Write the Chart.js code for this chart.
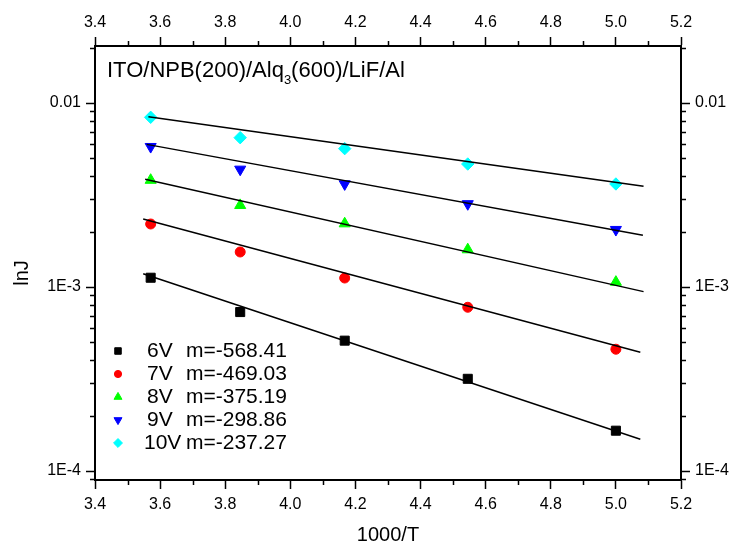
<!DOCTYPE html>
<html>
<head>
<meta charset="utf-8">
<script src="https://cdn.jsdelivr.net/npm/chart.js@4/dist/chart.umd.min.js"></script>
<style>
  body { margin: 0; background: #fff; }
  #wrap { width: 736px; height: 545px; }
</style>
</head>
<body>
<div id="wrap"><canvas id="chart" width="736" height="545"></canvas></div>
<script>
// 1000/T for T = 280, 260, 240, 220, 200 K
const invT = [3.571, 3.846, 4.167, 4.545, 5.0];

// current density at each bias
const j6V = [1.123e-3, 7.31e-4, 5.11e-4, 3.17e-4, 1.656e-4];
const j7V = [2.20e-3, 1.55e-3, 1.119e-3, 7.76e-4, 4.59e-4];
const j8V = [3.81e-3, 2.78e-3, 2.21e-3, 1.597e-3, 1.064e-3];
const j9V = [5.79e-3, 4.36e-3, 3.63e-3, 2.83e-3, 2.05e-3];
const j10V = [8.36e-3, 6.48e-3, 5.65e-3, 4.66e-3, 3.63e-3];

// linear fit end points, one per bias
const fitX0 = [3.548, 3.548, 3.554, 3.559, 3.564];
const fitX1 = [5.075, 5.075, 5.085, 5.083, 5.085];
const fitY0 = [1.181e-3, 2.34e-3, 3.85e-3, 5.96e-3, 8.42e-3];
const fitY1 = [1.487e-4, 4.42e-4, 9.44e-4, 1.91e-3, 3.53e-3];

const biasLabels = ['6V', '7V', '8V', '9V', '10V'];
const slopes = [-568.41, -469.03, -375.19, -298.86, -237.27];

const xTicks = [3.4, 3.6, 3.8, 4.0, 4.2, 4.4, 4.6, 4.8, 5.0, 5.2];
const yTicks = [1e-4, 1e-3, 0.01];
const yTickLabels = ['1E-4', '1E-3', '0.01'];

const series = [j6V, j7V, j8V, j9V, j10V];
const colors = ['#000000', '#ff0000', '#00ff00', '#0000ff', '#00ffff'];
const markers = [
  { style: 'rect', radius: 6.4, rotation: 0 },
  { style: 'circle', radius: 5, rotation: 0 },
  { style: 'triangle', radius: 6.4, rotation: 0 },
  { style: 'triangle', radius: 6.4, rotation: 180 },
  { style: 'rectRot', radius: 6.2, rotation: 0 }
];

const FONT = "'Liberation Sans', Arial, sans-serif";
Chart.defaults.font.family = FONT;
Chart.defaults.color = '#000';

const datasets = [];
series.forEach((vals, i) => {
  datasets.push({
    label: biasLabels[i],
    data: vals.map((y, k) => ({ x: invT[k], y })),
    showLine: false,
    backgroundColor: colors[i],
    borderColor: colors[i],
    borderWidth: 1,
    pointStyle: markers[i].style,
    pointRadius: markers[i].radius,
    pointRotation: markers[i].rotation,
    order: 2
  });
  datasets.push({
    label: 'fit ' + biasLabels[i],
    data: [{ x: fitX0[i], y: fitY0[i] }, { x: fitX1[i], y: fitY1[i] }],
    showLine: true,
    borderColor: '#000',
    borderWidth: 1.5,
    pointRadius: 0,
    order: 1
  });
});

const setXTicks = s => { s.ticks = xTicks.map(v => ({ value: v })); };
const setYTicks = s => { s.ticks = yTicks.map(v => ({ value: v })); };
const yLabel = v => {
  const i = yTicks.findIndex(t => Math.abs(t - v) / t < 1e-6);
  return i < 0 ? '' : yTickLabels[i];
};

const axisGrid = { drawOnChartArea: false, drawTicks: true, tickLength: 9, tickWidth: 1.5, tickColor: '#000' };
const axisBorder = { display: true, color: '#000', width: 2 };

// short ticks between the labelled ones, y title, sample label and legend
const extras = {
  id: 'extras',
  afterDraw(chart) {
    const { ctx, chartArea: a, scales } = chart;
    const minor = 5;
    ctx.save();
    ctx.strokeStyle = '#000';
    ctx.lineWidth = 1.5;
    ctx.beginPath();
    for (let i = 0; i < xTicks.length - 1; i++) {
      const px = Math.round(scales.x.getPixelForValue((xTicks[i] + xTicks[i + 1]) / 2)) + 0.5;
      ctx.moveTo(px, a.bottom); ctx.lineTo(px, a.bottom + minor);
      ctx.moveTo(px, a.top); ctx.lineTo(px, a.top - minor);
    }
    const ymin = scales.y.min, ymax = scales.y.max;
    for (let d = 1e-5; d < 1; d *= 10) {
      for (let k = 2; k <= 9; k++) {
        const v = k * d;
        if (v <= ymin || v >= ymax) continue;
        const py = Math.round(scales.y.getPixelForValue(v)) + 0.5;
        ctx.moveTo(a.left - minor, py); ctx.lineTo(a.left, py);
        ctx.moveTo(a.right, py); ctx.lineTo(a.right + minor, py);
      }
    }
    ctx.stroke();

    ctx.fillStyle = '#000';

    // y axis title
    ctx.save();
    ctx.translate(22, 273);
    ctx.rotate(-Math.PI / 2);
    ctx.font = '20px ' + FONT;
    ctx.textAlign = 'center';
    ctx.textBaseline = 'middle';
    ctx.fillText('lnJ', 0, 0);
    ctx.restore();

    // sample structure
    ctx.textBaseline = 'alphabetic';
    ctx.textAlign = 'left';
    let tx = 107;
    const ty = 77;
    ctx.font = '22px ' + FONT;
    ctx.fillText('ITO/NPB(200)/Alq', tx, ty);
    tx += ctx.measureText('ITO/NPB(200)/Alq').width;
    ctx.font = '13px ' + FONT;
    ctx.fillText('3', tx, ty + 7);
    tx += ctx.measureText('3').width;
    ctx.font = '22px ' + FONT;
    ctx.fillText('(600)/LiF/Al', tx, ty);

    // legend
    const rowY = [351, 374, 397, 420, 443];
    ctx.font = '21px ' + FONT;
    ctx.textBaseline = 'middle';
    biasLabels.forEach((lab, i) => {
      const m = markers[i];
      ctx.fillStyle = colors[i];
      ctx.strokeStyle = colors[i];
      ctx.lineWidth = 1;
      Chart.helpers.drawPoint(ctx, {
        pointStyle: m.style,
        radius: m.radius * 0.72,
        rotation: m.rotation,
        borderWidth: 1
      }, 118, rowY[i]);
      ctx.fillStyle = '#000';
      ctx.fillText(lab, lab.length > 2 ? 144 : 147, rowY[i]);
      ctx.fillText('m=' + slopes[i].toFixed(2), 186, rowY[i]);
    });
    ctx.restore();
  }
};

new Chart(document.getElementById('chart'), {
  type: 'scatter',
  data: { datasets },
  options: {
    responsive: false,
    animation: false,
    layout: { padding: 0 },
    plugins: { legend: { display: false }, tooltip: { enabled: false } },
    scales: {
      x: {
        type: 'linear', position: 'bottom', min: 3.4, max: 5.2,
        afterBuildTicks: setXTicks,
        ticks: { callback: v => v.toFixed(1), font: { size: 16 }, padding: 6, maxRotation: 0, autoSkip: false },
        grid: axisGrid, border: axisBorder,
        title: { display: true, text: '1000/T', font: { size: 20, lineHeight: 1 }, padding: { top: 0, bottom: 0 } },
        afterFit: s => { s.height = 65; }
      },
      x2: {
        type: 'linear', position: 'top', min: 3.4, max: 5.2,
        afterBuildTicks: setXTicks,
        ticks: { callback: v => v.toFixed(1), font: { size: 16 }, padding: 5, maxRotation: 0, autoSkip: false },
        grid: axisGrid, border: axisBorder,
        afterFit: s => { s.height = 46; }
      },
      y: {
        type: 'logarithmic', position: 'left', min: 8.935e-5, max: 0.02041,
        afterBuildTicks: setYTicks,
        ticks: { callback: yLabel, font: { size: 16 }, padding: 5, autoSkip: false },
        grid: axisGrid, border: axisBorder,
        afterFit: s => { s.width = 95; }
      },
      y2: {
        type: 'logarithmic', position: 'right', min: 8.935e-5, max: 0.02041,
        afterBuildTicks: setYTicks,
        ticks: { callback: yLabel, font: { size: 16 }, padding: 5, autoSkip: false },
        grid: axisGrid, border: axisBorder,
        afterFit: s => { s.width = 55; }
      }
    }
  },
  plugins: [extras]
});
</script>
</body>
</html>
